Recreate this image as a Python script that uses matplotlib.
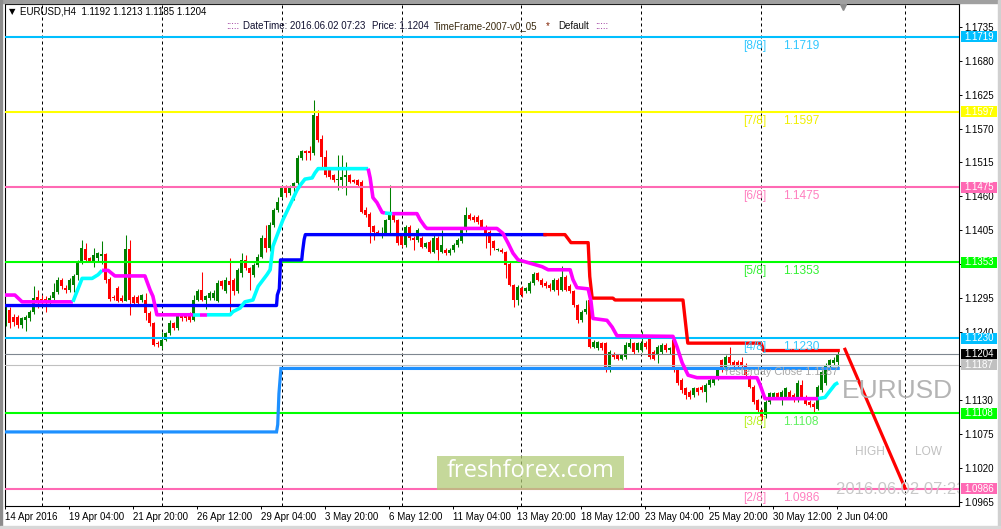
import numpy as np
import matplotlib
matplotlib.use("Agg")
import matplotlib.pyplot as plt
import matplotlib.transforms as mtransforms
from matplotlib.patches import Rectangle

plt.rcParams['font.family'] = ['Liberation Sans', 'DejaVu Sans']

W, H = 1001, 529

# EURUSD H4 candles
opens = [
    1.1265, 1.1276, 1.1265, 1.1265, 1.1252, 1.1260, 1.1262, 1.1273, 1.1297, 1.1294,
    1.1293, 1.1288, 1.1296, 1.1305, 1.1325, 1.1311, 1.1309, 1.1317, 1.1333, 1.1354,
    1.1374, 1.1360, 1.1356, 1.1360, 1.1363, 1.1366, 1.1326, 1.1297, 1.1311, 1.1295,
    1.1290, 1.1374, 1.1297, 1.1297, 1.1292, 1.1292, 1.1271, 1.1255, 1.1222, 1.1217,
    1.1227, 1.1238, 1.1254, 1.1246, 1.1268, 1.1268, 1.1268, 1.1260, 1.1292, 1.1308,
    1.1292, 1.1296, 1.1296, 1.1290, 1.1322, 1.1306, 1.1322, 1.1325, 1.1306, 1.1335,
    1.1357, 1.1344, 1.1333, 1.1349, 1.1362, 1.1392, 1.1376, 1.1414, 1.1438, 1.1459,
    1.1473, 1.1465, 1.1476, 1.1481, 1.1522, 1.1533, 1.1533, 1.1530, 1.1590, 1.1553,
    1.1524, 1.1503, 1.1495, 1.1487, 1.1487, 1.1492, 1.1495, 1.1487, 1.1487, 1.1484,
    1.1438, 1.1432, 1.1412, 1.1403, 1.1395, 1.1400, 1.1422, 1.1430, 1.1422, 1.1395,
    1.1381, 1.1411, 1.1392, 1.1389, 1.1392, 1.1378, 1.1386, 1.1370, 1.1392, 1.1370,
    1.1373, 1.1368, 1.1373, 1.1381, 1.1387, 1.1405, 1.1430, 1.1427, 1.1427, 1.1422,
    1.1411, 1.1403, 1.1387, 1.1373, 1.1373, 1.1370, 1.1351, 1.1316, 1.1292, 1.1311,
    1.1306, 1.1306, 1.1319, 1.1336, 1.1324, 1.1319, 1.1316, 1.1309, 1.1324, 1.1308,
    1.1330, 1.1315, 1.1306, 1.1284, 1.1259, 1.1273, 1.1292, 1.1216, 1.1214, 1.1222,
    1.1222, 1.1178, 1.1205, 1.1203, 1.1197, 1.1200, 1.1216, 1.1222, 1.1211, 1.1211,
    1.1223, 1.1228, 1.1208, 1.1205, 1.1208, 1.1219, 1.1211, 1.1227, 1.1178, 1.1162,
    1.1149, 1.1143, 1.1138, 1.1149, 1.1151, 1.1143, 1.1154, 1.1157, 1.1165, 1.1195,
    1.1181, 1.1200, 1.1192, 1.1192, 1.1192, 1.1187, 1.1168, 1.1151, 1.1130, 1.1114,
    1.1105, 1.1127, 1.1135, 1.1141, 1.1135, 1.1135, 1.1143, 1.1138, 1.1130, 1.1154,
    1.1135, 1.1127, 1.1124, 1.1116, 1.1146, 1.1157, 1.1187, 1.1189, 1.1192,
]
highs = [
    1.1285, 1.1280, 1.1270, 1.1268, 1.1265, 1.1268, 1.1276, 1.1314, 1.1308, 1.1300,
    1.1298, 1.1300, 1.1319, 1.1330, 1.1327, 1.1316, 1.1327, 1.1334, 1.1357, 1.1389,
    1.1384, 1.1362, 1.1376, 1.1370, 1.1387, 1.1368, 1.1330, 1.1300, 1.1314, 1.1300,
    1.1398, 1.1389, 1.1300, 1.1300, 1.1302, 1.1303, 1.1274, 1.1257, 1.1225, 1.1240,
    1.1240, 1.1260, 1.1256, 1.1270, 1.1270, 1.1270, 1.1272, 1.1300, 1.1310, 1.1338,
    1.1300, 1.1306, 1.1308, 1.1325, 1.1325, 1.1330, 1.1360, 1.1328, 1.1344, 1.1368,
    1.1365, 1.1346, 1.1352, 1.1366, 1.1397, 1.1414, 1.1419, 1.1441, 1.1459, 1.1478,
    1.1478, 1.1478, 1.1484, 1.1527, 1.1535, 1.1535, 1.1541, 1.1616, 1.1600, 1.1560,
    1.1535, 1.1506, 1.1497, 1.1527, 1.1527, 1.1516, 1.1497, 1.1489, 1.1489, 1.1487,
    1.1443, 1.1435, 1.1414, 1.1405, 1.1411, 1.1424, 1.1478, 1.1435, 1.1424, 1.1397,
    1.1414, 1.1414, 1.1395, 1.1408, 1.1395, 1.1386, 1.1389, 1.1400, 1.1395, 1.1405,
    1.1376, 1.1376, 1.1384, 1.1392, 1.1408, 1.1443, 1.1433, 1.1430, 1.1430, 1.1424,
    1.1414, 1.1405, 1.1389, 1.1376, 1.1376, 1.1372, 1.1353, 1.1318, 1.1316, 1.1314,
    1.1313, 1.1322, 1.1337, 1.1338, 1.1327, 1.1322, 1.1319, 1.1327, 1.1327, 1.1347,
    1.1332, 1.1318, 1.1308, 1.1286, 1.1276, 1.1292, 1.1295, 1.1227, 1.1226, 1.1224,
    1.1224, 1.1211, 1.1208, 1.1205, 1.1205, 1.1224, 1.1230, 1.1224, 1.1224, 1.1241,
    1.1226, 1.1230, 1.1211, 1.1219, 1.1222, 1.1222, 1.1216, 1.1230, 1.1181, 1.1165,
    1.1151, 1.1146, 1.1151, 1.1151, 1.1154, 1.1157, 1.1165, 1.1168, 1.1184, 1.1197,
    1.1203, 1.1216, 1.1195, 1.1195, 1.1200, 1.1189, 1.1170, 1.1154, 1.1132, 1.1116,
    1.1130, 1.1143, 1.1143, 1.1143, 1.1146, 1.1151, 1.1146, 1.1141, 1.1162, 1.1162,
    1.1138, 1.1130, 1.1127, 1.1154, 1.1178, 1.1189, 1.1197, 1.1200, 1.1213,
]
lows = [
    1.1250, 1.1246, 1.1250, 1.1246, 1.1246, 1.1242, 1.1258, 1.1270, 1.1279, 1.1282,
    1.1273, 1.1283, 1.1292, 1.1302, 1.1310, 1.1303, 1.1305, 1.1305, 1.1325, 1.1350,
    1.1354, 1.1353, 1.1346, 1.1355, 1.1350, 1.1320, 1.1290, 1.1292, 1.1288, 1.1288,
    1.1290, 1.1268, 1.1283, 1.1283, 1.1288, 1.1260, 1.1250, 1.1218, 1.1215, 1.1213,
    1.1225, 1.1235, 1.1243, 1.1244, 1.1258, 1.1258, 1.1257, 1.1258, 1.1290, 1.1290,
    1.1278, 1.1292, 1.1292, 1.1288, 1.1310, 1.1303, 1.1268, 1.1300, 1.1303, 1.1330,
    1.1340, 1.1308, 1.1330, 1.1346, 1.1360, 1.1370, 1.1372, 1.1411, 1.1435, 1.1457,
    1.1459, 1.1462, 1.1454, 1.1478, 1.1519, 1.1519, 1.1519, 1.1527, 1.1549, 1.1508,
    1.1492, 1.1489, 1.1484, 1.1470, 1.1473, 1.1462, 1.1481, 1.1481, 1.1476, 1.1433,
    1.1427, 1.1384, 1.1389, 1.1397, 1.1392, 1.1397, 1.1400, 1.1419, 1.1381, 1.1378,
    1.1378, 1.1389, 1.1373, 1.1386, 1.1376, 1.1376, 1.1368, 1.1368, 1.1357, 1.1368,
    1.1365, 1.1365, 1.1370, 1.1378, 1.1384, 1.1403, 1.1422, 1.1419, 1.1416, 1.1408,
    1.1376, 1.1365, 1.1373, 1.1371, 1.1368, 1.1327, 1.1314, 1.1281, 1.1284, 1.1297,
    1.1303, 1.1303, 1.1316, 1.1322, 1.1313, 1.1311, 1.1306, 1.1306, 1.1300, 1.1306,
    1.1306, 1.1303, 1.1281, 1.1255, 1.1257, 1.1270, 1.1214, 1.1214, 1.1211, 1.1211,
    1.1176, 1.1176, 1.1197, 1.1195, 1.1195, 1.1197, 1.1214, 1.1205, 1.1208, 1.1208,
    1.1213, 1.1197, 1.1195, 1.1189, 1.1205, 1.1208, 1.1205, 1.1176, 1.1154, 1.1141,
    1.1132, 1.1132, 1.1135, 1.1138, 1.1143, 1.1127, 1.1151, 1.1154, 1.1162, 1.1176,
    1.1178, 1.1187, 1.1184, 1.1184, 1.1184, 1.1168, 1.1149, 1.1124, 1.1108, 1.1097,
    1.1100, 1.1124, 1.1132, 1.1132, 1.1122, 1.1132, 1.1132, 1.1127, 1.1127, 1.1132,
    1.1122, 1.1119, 1.1111, 1.1114, 1.1143, 1.1154, 1.1184, 1.1187, 1.1185,
]
closes = [
    1.1280, 1.1254, 1.1257, 1.1252, 1.1262, 1.1264, 1.1273, 1.1295, 1.1289, 1.1290,
    1.1288, 1.1296, 1.1305, 1.1324, 1.1314, 1.1309, 1.1325, 1.1331, 1.1352, 1.1376,
    1.1357, 1.1356, 1.1365, 1.1368, 1.1366, 1.1325, 1.1293, 1.1296, 1.1290, 1.1290,
    1.1374, 1.1292, 1.1287, 1.1287, 1.1300, 1.1271, 1.1254, 1.1219, 1.1221, 1.1227,
    1.1238, 1.1254, 1.1246, 1.1268, 1.1262, 1.1262, 1.1260, 1.1292, 1.1306, 1.1292,
    1.1298, 1.1303, 1.1303, 1.1319, 1.1314, 1.1325, 1.1316, 1.1306, 1.1341, 1.1357,
    1.1344, 1.1335, 1.1349, 1.1362, 1.1393, 1.1376, 1.1414, 1.1438, 1.1451, 1.1473,
    1.1465, 1.1476, 1.1481, 1.1522, 1.1533, 1.1530, 1.1530, 1.1592, 1.1551, 1.1524,
    1.1495, 1.1492, 1.1487, 1.1489, 1.1492, 1.1495, 1.1484, 1.1483, 1.1479, 1.1435,
    1.1430, 1.1411, 1.1403, 1.1400, 1.1400, 1.1422, 1.1435, 1.1422, 1.1384, 1.1381,
    1.1411, 1.1392, 1.1389, 1.1405, 1.1378, 1.1384, 1.1370, 1.1392, 1.1373, 1.1381,
    1.1368, 1.1373, 1.1381, 1.1389, 1.1405, 1.1430, 1.1424, 1.1422, 1.1419, 1.1411,
    1.1395, 1.1384, 1.1376, 1.1374, 1.1370, 1.1349, 1.1316, 1.1292, 1.1313, 1.1300,
    1.1311, 1.1319, 1.1334, 1.1324, 1.1316, 1.1314, 1.1311, 1.1324, 1.1308, 1.1330,
    1.1308, 1.1306, 1.1284, 1.1259, 1.1273, 1.1278, 1.1216, 1.1224, 1.1224, 1.1214,
    1.1178, 1.1208, 1.1200, 1.1197, 1.1203, 1.1219, 1.1222, 1.1208, 1.1222, 1.1223,
    1.1216, 1.1200, 1.1197, 1.1216, 1.1219, 1.1211, 1.1214, 1.1178, 1.1157, 1.1146,
    1.1138, 1.1135, 1.1149, 1.1143, 1.1146, 1.1154, 1.1163, 1.1165, 1.1181, 1.1178,
    1.1200, 1.1189, 1.1187, 1.1187, 1.1187, 1.1170, 1.1151, 1.1127, 1.1114, 1.1103,
    1.1127, 1.1141, 1.1141, 1.1135, 1.1143, 1.1149, 1.1135, 1.1130, 1.1157, 1.1135,
    1.1124, 1.1122, 1.1119, 1.1151, 1.1176, 1.1187, 1.1195, 1.1195, 1.1204,
]

# Murrey Math levels
mm_levels = [1.1719, 1.1597, 1.1475, 1.1353, 1.1230, 1.1108, 1.0986]
mm_names = ['[8/8]', '[7/8]', '[6/8]', '[5/8]', '[4/8]', '[3/8]', '[2/8]']
mm_colors = ['#00BFFF', '#FFFF00', '#FF69B4', '#00FF00', '#00BFFF', '#00FF00', '#FF69B4']
mm_name_colors = ['#33C8FF', '#F0F000', '#FF80C0', '#33F033', '#33C8FF', '#B8F020', '#FF80C0']
mm_value_colors = ['#33C8FF', '#F0F000', '#FF80C0', '#33F033', '#33C8FF', '#60F060', '#FF80C0']

bid_price = 1.1204
yesterday_close = 1.1187

# trailing stop (blue while up, red while down)
stop_up_x = [-0.2, 67.7, 67.9, 68.4, 68.7, 74.0, 74.2, 74.6, 74.9, 134.8]
stop_up_y = [1.1283, 1.1283, 1.1300, 1.1310, 1.1357, 1.1357, 1.1370, 1.1390, 1.1398, 1.1398]
stop_dn_x = [134.8, 139.8, 140.5, 141.3, 145.6, 146.0, 146.6, 151.8, 152.3, 169.3, 170.5, 188.8, 189.5, 208.1]
stop_dn_y = [1.1398, 1.1398, 1.1392, 1.1385, 1.1385, 1.1330, 1.1295, 1.1295, 1.1292, 1.1292,
             1.1222, 1.1222, 1.1210, 1.1210]

# weekly level line
week_x = [-0.2, 67.7, 68.0, 68.3, 68.8, 208.1]
week_y = [1.1078, 1.1078, 1.1090, 1.1140, 1.1181, 1.1181]

# trend line: 1 = cyan segment, 0 = magenta segment
trail_x = [-0.2, 2.3, 4.1, 16.8, 19.1, 21.6, 23.1, 24.1, 25.6, 27.3,
           34.8, 36.1, 36.8, 37.8, 46.8, 48.6, 50.3, 56.1, 56.8, 58.6,
           59.8, 61.8, 63.1, 65.3, 66.1, 66.8, 69.3, 72.8, 73.6, 74.8,
           76.6, 77.3, 78.1, 90.6, 91.1, 91.8, 92.8, 94.1, 94.8, 96.6,
           102.8, 103.6, 104.8, 105.3, 122.8, 124.3, 125.6, 126.8, 128.1, 129.3,
           134.1, 135.6, 141.1, 141.8, 142.8, 145.6, 146.3, 146.8, 150.3, 151.6,
           152.8, 166.8, 167.8, 169.1, 170.6, 172.8, 187.8, 188.6, 189.8, 203.1,
           204.8, 206.1, 207.3, 208.1]
trail_y = [1.1300, 1.1300, 1.1289, 1.1289, 1.1327, 1.1327, 1.1333, 1.1340, 1.1340, 1.1331,
           1.1331, 1.1308, 1.1298, 1.1268, 1.1268, 1.1268, 1.1268, 1.1268, 1.1273, 1.1279,
           1.1289, 1.1292, 1.1314, 1.1333, 1.1341, 1.1379, 1.1422, 1.1470, 1.1478, 1.1488,
           1.1490, 1.1498, 1.1505, 1.1505, 1.1490, 1.1458, 1.1450, 1.1434, 1.1433, 1.1432,
           1.1432, 1.1422, 1.1411, 1.1408, 1.1408, 1.1400, 1.1384, 1.1368, 1.1357, 1.1355,
           1.1346, 1.1341, 1.1341, 1.1325, 1.1312, 1.1310, 1.1290, 1.1262, 1.1259, 1.1248,
           1.1234, 1.1233, 1.1216, 1.1190, 1.1170, 1.1166, 1.1166, 1.1154, 1.1132, 1.1132,
           1.1134, 1.1145, 1.1155, 1.1158]
trail_up = [0, 0, 0, 1, 1, 1, 1, 0, 0, 0,
            0, 0, 0, 0, 1, 0, 1, 1, 1, 1,
            1, 1, 1, 1, 1, 1, 1, 1, 1, 1,
            1, 1, 1, 0, 0, 0, 0, 0, 1, 0,
            0, 0, 0, 0, 0, 0, 0, 0, 0, 0,
            0, 0, 0, 0, 0, 0, 0, 0, 0, 0,
            0, 0, 0, 0, 0, 0, 0, 0, 0, 1,
            1, 1, 1, 1]

# projection line on the right
proj_x = [209.8, 224.8]
proj_y = [1.1212, 1.0987]

grid_x = [9, 39, 69, 99, 128.8, 158.8, 188.8, 224.8]
xtick_bars = [0, 16, 32, 48, 64, 80, 96, 112, 128, 144, 160, 176, 192, 208]
xtick_labels = ['14 Apr 2016', '19 Apr 04:00', '21 Apr 20:00', '26 Apr 12:00', '29 Apr 04:00',
                '3 May 20:00', '6 May 12:00', '11 May 04:00', '13 May 20:00', '18 May 12:00',
                '23 May 04:00', '25 May 20:00', '30 May 12:00', '2 Jun 04:00']
ytick_labels = ['1.0965', '1.1020', '1.1075', '1.1130', '1.1185', '1.1240', '1.1295', '1.1350',
                '1.1405', '1.1460', '1.1515', '1.1570', '1.1625', '1.1680', '1.1735']

tag_values = [1.1719, 1.1597, 1.1475, 1.1353, 1.1230, 1.1204, 1.1187, 1.1108, 1.0986]
tag_colors = ['#00BFFF', '#FFFF00', '#FF69B4', '#00FF00', '#00BFFF', '#000000', '#C0C0C0',
              '#00FF00', '#FF69B4']

fig = plt.figure(figsize=(W / 100, H / 100), dpi=100)
fig.patch.set_facecolor('white')
ax_l, ax_r, ax_t, ax_b = 5, 959, 4, 506
ax = fig.add_axes([ax_l / W, (H - ax_b) / H, (ax_r - ax_l) / W, (ax_b - ax_t) / H])
ax.set_facecolor('white')
ax.set_xlim(-0.175, 238.3)
ax.set_ylim(1.09579, 1.17720)

def axp(px, py):
    # pixel position in the picture -> axes fraction
    return (px - ax_l) / (ax_r - ax_l), (ax_b - py) / (ax_b - ax_t)

# window frame
fig.patches.append(Rectangle((0, 1 - 3 / H), 1, 3 / H, transform=fig.transFigure, color='#A0A0A0', zorder=0))
fig.patches.append(Rectangle((0, 0), 2 / W, 1, transform=fig.transFigure, color='#8C8C8C', zorder=0))
fig.patches.append(Rectangle((1 - 3 / W, 0), 3 / W, 1, transform=fig.transFigure, color='#D0D0D0', zorder=0))
fig.patches.append(Rectangle((0, 0), 1, 3 / H, transform=fig.transFigure, color='#D8D8D8', zorder=0))

for gx in grid_x:
    ax.axvline(gx, color='black', lw=0.72, ls=(0, (3, 3)), zorder=1)

# candles
o = np.array(opens); h = np.array(highs); l = np.array(lows); c = np.array(closes)
idx = np.arange(len(o))
cols = np.where(c >= o, '#008000', '#FF0000')
ax.vlines(idx, l, h, colors=cols, lw=0.75, zorder=2)
body = np.maximum(np.abs(c - o), 0.00016)
ax.bar(idx, body, bottom=np.minimum(o, c), width=0.75, color=cols, lw=0, zorder=2)

# levels
for lev, col in zip(mm_levels, mm_colors):
    ax.axhline(lev, color=col, lw=1.5, zorder=3)
ax.axhline(bid_price, color='#7F8790', lw=0.8, zorder=3)
ax.axhline(yesterday_close, color='#C0C0C0', lw=0.8, zorder=3)

ax.plot(week_x, week_y, color='#1E90FF', lw=2.3, zorder=3.5, solid_joinstyle='miter')
ax.plot(stop_up_x, stop_up_y, color='#0000FF', lw=2.4, zorder=4)
ax.plot(stop_dn_x, stop_dn_y, color='#FF0000', lw=2.4, zorder=4)

start = 0
n = len(trail_x)
for k in range(1, n):
    if k == n - 1 or trail_up[k] != trail_up[start]:
        ax.plot(trail_x[start:k + 1], trail_y[start:k + 1],
                color='#00FFFF' if trail_up[start] else '#FF00FF', lw=2.6, zorder=4.5,
                solid_capstyle='butt')
        start = k

ax.plot(proj_x, proj_y, color='#FF0000', lw=2.3, zorder=4)

# level captions
for lev, name, cn, cv in zip(mm_levels, mm_names, mm_name_colors, mm_value_colors):
    ax.annotate(name, xy=(184.3, lev), xytext=(0, -9), textcoords='offset pixels',
                ha='left', va='center', fontsize=8.6, color=cn, zorder=6)
    ax.annotate('%.4f' % lev, xy=(194.3, lev), xytext=(0, -9), textcoords='offset pixels',
                ha='left', va='center', fontsize=8.6, color=cv, zorder=6)
ax.annotate('Yesterday Close %.4f' % yesterday_close, xy=(208.1, yesterday_close), xytext=(0, -7),
            textcoords='offset pixels', ha='right', va='center', fontsize=7.8,
            color='#A8A8A8', zorder=6)

# screen labels
ax.text(*axp(897, 391), 'EURUSD', transform=ax.transAxes, ha='center', va='center',
        fontsize=19, color='#B4B4B4', zorder=6)
ax.text(*axp(870, 452), 'HIGH', transform=ax.transAxes, ha='center', va='center',
        fontsize=8.6, color='#C0C0C0', zorder=6)
ax.text(*axp(928, 452), 'LOW', transform=ax.transAxes, ha='center', va='center',
        fontsize=8.6, color='#C0C0C0', zorder=6)
ax.text(*axp(836, 489), '2016.06.02 07:23', transform=ax.transAxes, ha='left', va='center',
        fontsize=12, color='#C8C8C8', zorder=6, clip_on=True)

x0, y0 = axp(437, 490)
x1, y1 = axp(624, 456)
ax.add_patch(Rectangle((x0, y0), x1 - x0, y1 - y0, transform=ax.transAxes,
                       facecolor='#B2CB78', alpha=0.75, lw=0, zorder=6))
ax.text(*axp(531, 471), 'freshforex.com', transform=ax.transAxes, ha='center', va='center',
        fontsize=17, color='white', family='Open Sans', zorder=7)

# header
ax.text(*axp(9, 12), '▼', transform=ax.transAxes, ha='left', va='center', fontsize=6,
        color='black', family='DejaVu Sans', zorder=7)
ax.text(*axp(20, 12), 'EURUSD,H4  1.1192 1.1213 1.1185 1.1204', transform=ax.transAxes,
        ha='left', va='center', fontsize=7, color='black', zorder=7)
header = [(226, ':::::', '#800080'), (243, 'DateTime: 2016.06.02 07:23', '#101030'),
          (372, 'Price: 1.1204', '#101030'), (434, 'TimeFrame-2007-v0_05', '#3A2A10'),
          (546, '*', '#802000'), (558, 'Default', '#101010'), (595, ':::::', '#800080')]
for hx, txt, hc in header:
    ax.text(*axp(hx, 26), txt, transform=ax.transAxes, ha='left', va='center',
            fontsize=7, color=hc, zorder=7)
ax.plot(*axp(843, 7), marker='v', color='#8C8C8C', markersize=5, transform=ax.transAxes,
        clip_on=False, zorder=7)

# axes
for sp in ax.spines.values():
    sp.set_color('black')
    sp.set_linewidth(0.8)
ax.yaxis.tick_right()
ax.set_yticks([float(t) for t in ytick_labels])
ax.set_yticklabels(ytick_labels)
ax.tick_params(axis='y', length=2.5, width=0.7, pad=1.5, labelsize=7, colors='black')
ax.set_xticks([b - 0.175 for b in xtick_bars])
ax.set_xticklabels(xtick_labels, ha='left')
ax.tick_params(axis='x', length=2.5, width=0.7, pad=2, labelsize=7, colors='black')

# price tags on the scale
blend = mtransforms.blended_transform_factory(ax.transAxes, ax.transData)
tag_x0 = (961 - ax_l) / (ax_r - ax_l)
tag_w = 36 / (ax_r - ax_l)
half = 5.5 / 6166
for val, tc in zip(tag_values, tag_colors):
    ax.add_patch(Rectangle((tag_x0, val - half), tag_w, 2 * half, transform=blend,
                           facecolor=tc, lw=0, clip_on=False, zorder=10))
    ax.text(tag_x0 + tag_w / 2, val, '%.4f' % val, transform=blend, ha='center', va='center',
            fontsize=7, color='white', clip_on=False, zorder=11)

fig.savefig('out.png', dpi=100)
